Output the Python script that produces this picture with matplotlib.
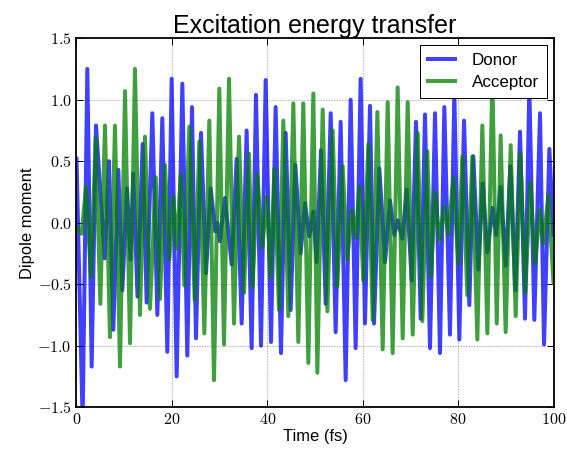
import matplotlib
matplotlib.use('Agg')
import matplotlib.pyplot as plt
from matplotlib.ticker import FuncFormatter

plt.rcParams['font.family'] = ['Liberation Sans', 'DejaVu Sans']
plt.rcParams['mathtext.fontset'] = 'cm'

# extrema (time in fs, dipole moment)
donor_t = [0, 1.29, 2.27, 3.18, 4.09, 5.91, 6.81, 7.72, 8.77, 9.61, 10.59, 11.32, 11.91, 12.79,
           13.88, 14.71, 15.90, 16.95, 17.99, 19.04, 19.95, 21.0, 22.19, 23.23, 24.21, 25.05,
           26.1, 27.15, 28.13, 29.1, 29.52, 30.08, 31.13, 32.53, 33.58, 34.63, 35.67, 36.72,
           37.63, 38.68, 39.66, 40.78, 41.75, 42.87, 43.85, 44.9, 45.88, 46.99, 47.9, 48.81,
           49.65, 50.35, 51.26, 52.24, 53.29, 54.33, 55.38, 56.43, 57.48, 58.52, 59.57, 60.48,
           61.53, 62.37, 63.49, 64.68, 65.72, 66.63, 67.33, 68.31, 69.22, 70.27, 71.17, 72.15,
           73.06, 74.11, 75.16, 76.2, 77.11, 78.3, 79.21, 80.26, 81.24, 82.35, 83.19, 84.24,
           85.15, 86.13, 87.25, 87.95, 88.92, 89.97, 90.95, 92.0, 92.98, 94.03, 94.93, 95.98,
           97.17, 98.01, 99.13, 100]
donor_v = [0.52, -1.62, 1.25, -1.17, 0.79, -0.29, 0.50, -0.87, 0.43, -0.55, 0.28, -0.30, 0.40,
           -0.60, 0.64, -0.65, 0.89, -0.75, 0.85, -1.05, 1.17, -1.25, 1.13, -1.08, 0.94, -0.94,
           0.73, -0.41, 0.28, -0.07, 0.0, -0.15, 0.20, -0.34, 0.52, -0.82, 0.75, -1.02, 1.04,
           -1.0, 1.16, -0.97, 0.94, -1.06, 0.73, -0.71, 0.47, -0.25, 0.16, -0.11, 0.09, -0.32,
           0.59, -0.66, 0.89, -0.89, 0.82, -1.28, 1.0, -1.02, 1.17, -0.82, 0.95, -0.82, 0.44,
           -0.32, 0.18, -0.10, 0.02, -0.13, 0.27, -0.47, 0.82, -0.78, 0.88, -1.02, 0.89, -1.06,
           0.94, -0.91, 1.05, -0.95, 0.83, -0.67, 0.54, -0.38, 0.32, -0.24, 0.12, -0.10, 0.29,
           -0.35, 0.46, -0.55, 0.74, -0.78, 1.1, -0.79, 0.89, -0.99, 0.6, -0.1]

acceptor_t = [0, 1.08, 1.99, 3.04, 4.02, 5.0, 5.97, 7.02, 8.07, 9.12, 10.17, 11.22, 12.26, 13.31,
              14.36, 15.41, 16.6, 17.51, 18.55, 19.46, 20.3, 21.0, 21.84, 22.61, 23.65, 24.77,
              25.75, 26.8, 27.85, 28.83, 29.94, 30.92, 31.97, 33.02, 34.07, 35.12, 36.16, 36.93,
              37.91, 38.96, 39.87, 40.71, 41.47, 42.45, 43.36, 44.41, 45.46, 46.5, 47.55, 48.6,
              49.65, 50.49, 51.61, 52.59, 53.7, 54.68, 55.8, 56.78, 57.69, 58.53, 59.29, 60.13,
              61.18, 62.09, 63.07, 64.19, 65.24, 66.28, 67.33, 68.38, 69.43, 70.48, 71.53, 72.5,
              73.55, 74.32, 75.16, 76.07, 77.11, 77.95, 79.0, 80.05, 80.89, 81.94, 82.98, 84.03,
              85.08, 86.13, 87.18, 88.1, 88.92, 89.97, 91.02, 92.07, 93.05, 94.09, 95.14, 96.12,
              97.17, 97.87, 98.92, 100]
acceptor_v = [-0.03, -0.09, 0.29, -0.44, 0.69, -0.66, 0.79, -0.93, 0.79, -1.17, 1.07, -0.98, 1.25,
              -0.75, 0.70, -0.70, 0.37, -0.62, 0.47, -0.30, 0.21, -0.21, 0.39, -0.51, 0.78, -0.63,
              0.66, -0.90, 0.83, -1.28, 1.09, -0.99, 1.17, -0.82, 0.70, -0.57, 0.56, -0.52, 0.39,
              -0.20, 0.21, -0.44, 0.44, -0.71, 0.83, -0.76, 0.97, -0.97, 0.97, -1.14, 1.05, -1.22,
              0.92, -0.72, 0.75, -0.52, 0.46, -0.30, 0.10, -0.12, 0.29, -0.47, 0.64, -0.79, 0.90,
              -1.03, 0.98, -1.06, 1.10, -0.94, 0.98, -0.91, 0.73, -0.80, 0.58, -0.44, 0.25, -0.14,
              0.13, -0.10, 0.36, -0.33, 0.54, -0.59, 0.54, -0.95, 0.79, -0.90, 1.2, -0.82, 0.71,
              -0.89, 0.63, -0.76, 0.56, -0.57, 0.33, -0.33, 0.10, -0.17, 0.22, -0.49]

x_ticks = [0, 20, 40, 60, 80, 100]
y_ticks = [-1.5, -1.0, -0.5, 0.0, 0.5, 1.0, 1.5]

fig = plt.figure(figsize=(567 / 72, 452 / 72), dpi=72)
ax = fig.add_axes([0.1349, 0.0991, 0.8413, 0.8164])

ax.plot(donor_t, donor_v, color='b', alpha=0.75, lw=4, label='Donor')
ax.plot(acceptor_t, acceptor_v, color='g', alpha=0.75, lw=4, label='Acceptor')

ax.set_xlim(0, 100)
ax.set_ylim(-1.5, 1.5)
ax.set_xticks(x_ticks)
ax.set_yticks(y_ticks)
ax.xaxis.set_major_formatter(FuncFormatter(lambda v, p: '$%g$' % v))
ax.yaxis.set_major_formatter(FuncFormatter(lambda v, p: '$%.1f$' % v))
ax.tick_params(direction='in', top=True, right=True, length=7, width=1, labelsize=16, pad=5)
ax.grid(True, color='k', linestyle=':', linewidth=0.6, alpha=0.7)
for s in ax.spines.values():
    s.set_linewidth(1.8)

ax.set_title('Excitation energy transfer', fontsize=25, pad=5)
ax.set_xlabel('Time (fs)', fontsize=16.5, labelpad=2)
ax.set_ylabel('Dipole moment', fontsize=16.5, labelpad=2)

leg = ax.legend(loc='upper right', fontsize=17, fancybox=False, framealpha=1,
                borderaxespad=0.4, handlelength=1.6, handletextpad=1.0,
                borderpad=0.45, labelspacing=0.45)
leg.get_frame().set_edgecolor('k')
leg.get_frame().set_linewidth(1.0)

fig.savefig('out.png', dpi=72)
